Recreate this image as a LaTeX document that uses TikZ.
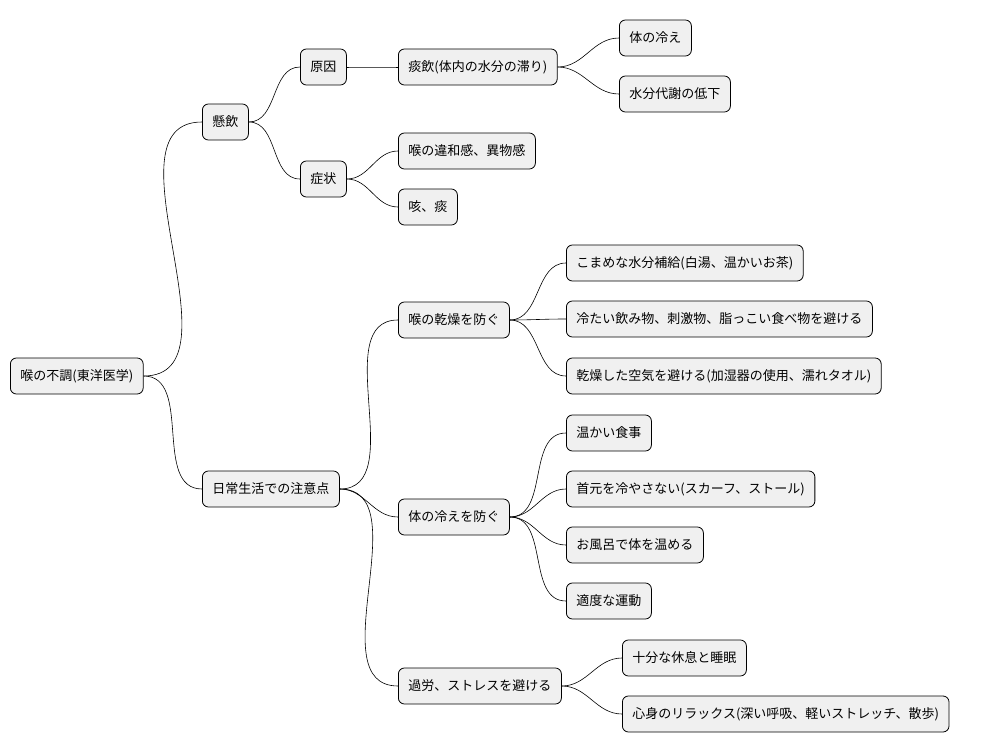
\documentclass[tikz,border=0pt]{standalone}
\usepackage{fontspec}
\setmainfont{Noto Sans CJK JP}
\usetikzlibrary{positioning}
\tikzset{
  topic/.style={rectangle,rounded corners=6pt,draw=black,fill=black!6,line width=0.8pt,
    minimum height=36pt,inner xsep=10pt,anchor=west,font=\fontsize{13}{15}\selectfont},
  link/.style={line width=0.6pt,out=0,in=180}
}
\begin{document}
\begin{tikzpicture}[x=1pt,y=-1pt]
  \useasboundingbox (0,0) rectangle (986,752);
  % root
  \node[topic] (root) at (10,376) {喉の不調(東洋医学)};
  % first level
  \node[topic] (kenin) at (202,122) {懸飲};
  \node[topic] (daily) at (202,489) {日常生活での注意点};
  % kenin part
  \node[topic] (cause) at (300,67) {原因};
  \node[topic] (symp) at (300,179) {症状};
  \node[topic] (tanin) at (398,67) {痰飲(体内の水分の滞り)};
  \node[topic] (cold) at (619,38) {体の冷え};
  \node[topic] (water) at (619,94) {水分代謝の低下};
  \node[topic] (throat) at (398,151) {喉の違和感、異物感};
  \node[topic] (cough) at (398,207) {咳、痰};
  % daily part
  \node[topic] (dry) at (398,320) {喉の乾燥を防ぐ};
  \node[topic] (d1) at (566,263) {こまめな水分補給(白湯、温かいお茶)};
  \node[topic] (d2) at (566,319) {冷たい飲み物、刺激物、脂っこい食べ物を避ける};
  \node[topic] (d3) at (566,376) {乾燥した空気を避ける(加湿器の使用、濡れタオル)};
  \node[topic] (chill) at (398,517) {体の冷えを防ぐ};
  \node[topic] (c1) at (566,433) {温かい食事};
  \node[topic] (c2) at (566,489) {首元を冷やさない(スカーフ、ストール)};
  \node[topic] (c3) at (566,545) {お風呂で体を温める};
  \node[topic] (c4) at (566,601) {適度な運動};
  \node[topic] (stress) at (398,686) {過労、ストレスを避ける};
  \node[topic] (s1) at (622,658) {十分な休息と睡眠};
  \node[topic] (s2) at (622,714) {心身のリラックス(深い呼吸、軽いストレッチ、散歩)};
  % connectors
  \foreach \p/\c in {root/kenin,root/daily,kenin/cause,kenin/symp,cause/tanin,
      tanin/cold,tanin/water,symp/throat,symp/cough,daily/dry,dry/d1,dry/d2,dry/d3,
      daily/chill,chill/c1,chill/c2,chill/c3,chill/c4,daily/stress,stress/s1,stress/s2}
    \draw[link] (\p.east) to (\c.west);
\end{tikzpicture}
\end{document}
